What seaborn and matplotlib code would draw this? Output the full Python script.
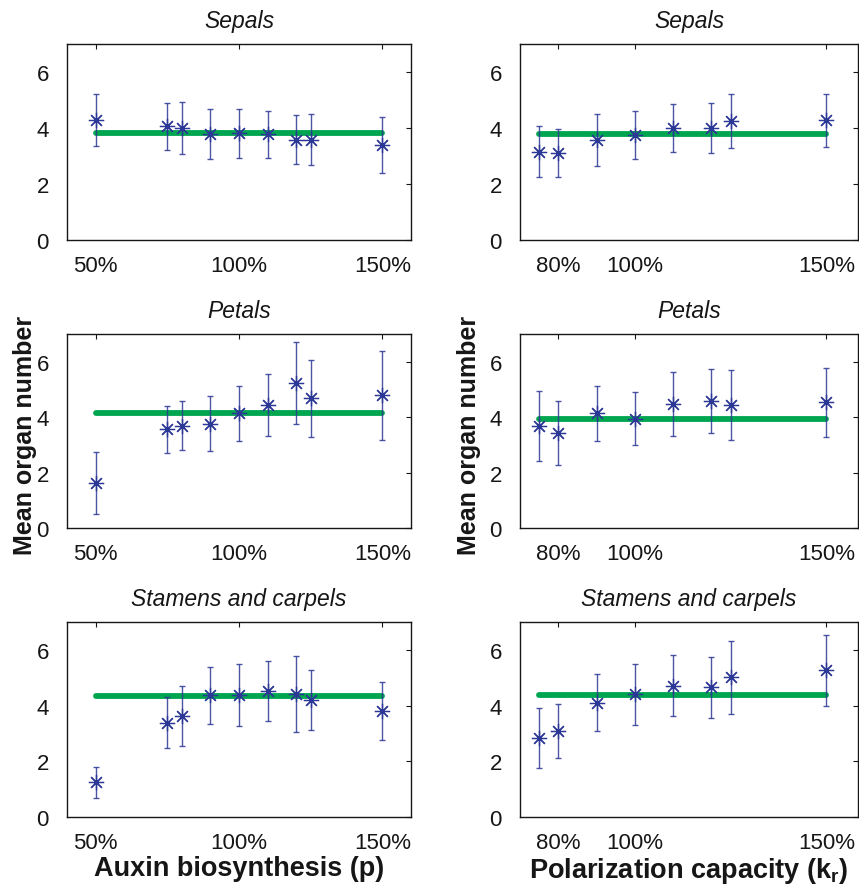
import numpy as np
import matplotlib
matplotlib.use('Agg')
import matplotlib.pyplot as plt
import seaborn as sns

# x positions (% of wild-type value)
x_auxin = [50, 75, 80, 90, 100, 110, 120, 125, 150]
x_polar = [75, 80, 90, 100, 110, 120, 125, 150]

# Auxin biosynthesis column
auxin_sepal_mean = [4.28, 4.06, 4.00, 3.78, 3.81, 3.78, 3.58, 3.58, 3.38]
auxin_sepal_err = [0.92, 0.83, 0.94, 0.88, 0.87, 0.84, 0.88, 0.91, 1.00]
auxin_petal_mean = [1.64, 3.57, 3.69, 3.77, 4.14, 4.44, 5.25, 4.69, 4.79]
auxin_petal_err = [1.12, 0.85, 0.88, 0.98, 0.99, 1.13, 1.48, 1.39, 1.61]
auxin_stamen_mean = [1.25, 3.39, 3.63, 4.37, 4.37, 4.51, 4.41, 4.20, 3.81]
auxin_stamen_err = [0.56, 0.92, 1.09, 1.02, 1.11, 1.08, 1.37, 1.07, 1.04]

# Polarization capacity column
polar_sepal_mean = [3.15, 3.11, 3.57, 3.76, 4.00, 4.00, 4.24, 4.28]
polar_sepal_err = [0.91, 0.87, 0.92, 0.85, 0.86, 0.88, 0.97, 0.95]
polar_petal_mean = [3.67, 3.43, 4.14, 3.94, 4.48, 4.59, 4.44, 4.54]
polar_petal_err = [1.27, 1.16, 1.00, 0.95, 1.16, 1.15, 1.26, 1.24]
polar_stamen_mean = [2.84, 3.10, 4.11, 4.40, 4.71, 4.66, 5.01, 5.26]
polar_stamen_err = [1.07, 0.97, 1.02, 1.11, 1.09, 1.10, 1.31, 1.26]

# wild-type reference level (green line)
auxin_ref = [3.81, 4.14, 4.35]
polar_ref = [3.77, 3.95, 4.38]

titles = ['Sepals', 'Petals', 'Stamens and carpels']

sns.set_style('white')
plt.rcParams['font.family'] = ['Liberation Sans', 'DejaVu Sans']
plt.rcParams['mathtext.fontset'] = 'custom'
plt.rcParams['mathtext.rm'] = 'Liberation Sans'
plt.rcParams['mathtext.bf'] = 'Liberation Sans:bold'

blue = '#2c3896'
green = '#00a550'
ink = '#161616'
star = (8, 2, 0)

fig = plt.figure(figsize=(8.59, 8.87), dpi=100)

rows = [(0.7283, 0.2210), (0.4036, 0.2187), (0.0778, 0.2198)]
cols = [(0.078, 0.4005), (0.6054, 0.3935)]

col_data = [
    (x_auxin, [auxin_sepal_mean, auxin_petal_mean, auxin_stamen_mean],
     [auxin_sepal_err, auxin_petal_err, auxin_stamen_err], auxin_ref,
     (40, 160), [50, 100, 150], ['50%', '100%', '150%']),
    (x_polar, [polar_sepal_mean, polar_petal_mean, polar_stamen_mean],
     [polar_sepal_err, polar_petal_err, polar_stamen_err], polar_ref,
     (70, 158.3), [80, 100, 150], ['80%', '100%', '150%']),
]

axes = {}
for c, (x, means, errs, refs, xlim, xt, xtl) in enumerate(col_data):
    for r in range(3):
        ax = fig.add_axes([cols[c][0], rows[r][0], cols[c][1], rows[r][1]])
        axes[(r, c)] = ax
        sns.lineplot(x=[min(x), max(x)], y=[refs[r], refs[r]], ax=ax,
                     color=green, linewidth=4.2, zorder=2)
        ax.errorbar(x, means[r], yerr=errs[r], fmt='none', ecolor=blue,
                    elinewidth=1.0, capsize=2.5, capthick=1.0, alpha=0.85,
                    zorder=3)
        ax.plot(x, means[r], linestyle='none', marker=star, markersize=11,
                markeredgewidth=0.9, color=blue, zorder=4)
        ax.set_xlim(*xlim)
        ax.set_ylim(0, 7)
        ax.set_xticks(xt)
        ax.set_xticklabels(xtl)
        ax.set_yticks([0, 2, 4, 6])
        ax.tick_params(direction='in', top=True, right=True, length=3.5,
                       width=0.8, labelsize=16, colors=ink)
        ax.tick_params(axis='x', pad=11)
        ax.tick_params(axis='y', pad=13)
        for s in ax.spines.values():
            s.set_linewidth(1.0)
            s.set_color(ink)
        ax.set_title(titles[r], fontsize=16.5, style='italic', pad=12,
                     color=ink)

axes[(2, 0)].set_xlabel('Auxin biosynthesis (p)', fontsize=19.5,
                        fontweight='bold', labelpad=1, color=ink)
axes[(2, 1)].set_xlabel(r'Polarization capacity (k$_\mathbf{r}$)',
                        fontsize=19.5, fontweight='bold', labelpad=1,
                        color=ink)

fig.text(25 / 859, 1 - 435 / 887, 'Mean organ number', rotation=90,
         ha='center', va='center', fontsize=18, fontweight='bold',
         color=ink)
fig.text(469 / 859, 1 - 435 / 887, 'Mean organ number', rotation=90,
         ha='center', va='center', fontsize=18, fontweight='bold',
         color=ink)

fig.savefig('out.png', dpi=100)
